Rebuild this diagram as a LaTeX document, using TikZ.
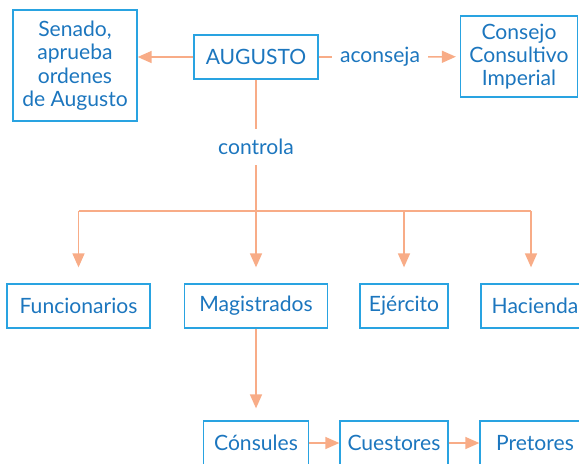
\documentclass[tikz,border=0pt]{standalone}
\usepackage{fontspec}
\setmainfont{Lato}
\usetikzlibrary{arrows.meta,positioning}

\definecolor{cajaborde}{RGB}{41,163,225}
\definecolor{textoazul}{RGB}{28,118,190}
\definecolor{lineasalmon}{RGB}{248,172,135}

\begin{document}
\begin{tikzpicture}[x=0.025cm,y=-0.025cm,
	font=\fontsize{15}{16.6}\selectfont,
	caja/.style={draw=cajaborde, line width=0.9pt, text=textoazul, align=center, inner sep=0pt, minimum height=1.1cm},
	etiqueta/.style={text=textoazul, inner xsep=0.2cm, inner ysep=0.25cm},
	linea/.style={draw=lineasalmon, line width=1.1pt},
	flecha/.style={linea, -{Triangle[length=0.35cm, width=0.3cm]}}]
		\useasboundingbox (0,0) rectangle (579,463);

		% fila superior
		\node[caja, minimum width=3.1cm, minimum height=2.775cm] (senado) at (75,65.5) {Senado,\\aprueba\\ordenes\\de Augusto};
		\node[caja, minimum width=3.1cm] (augusto) at (256,57) {AUGUSTO};
		\node[caja, minimum width=2.925cm, minimum height=2.025cm] (consejo) at (519,56.5) {Consejo\\Consultivo\\Imperial};
		\node[etiqueta] (aconseja) at (380,57) {aconseja};
		\node[etiqueta] (controla) at (256,147) {controla};

		% fila central
		\node[caja, minimum width=3.575cm] (funcionarios) at (78.5,306) {Funcionarios};
		\node[caja, minimum width=3.575cm] (magistrados) at (256,306) {Magistrados};
		\node[caja, minimum width=2.2cm] (ejercito) at (404,306) {Ejército};
		\node[caja, minimum width=2.7cm] (hacienda) at (535,306) {Hacienda};

		% fila inferior
		\node[caja, minimum width=2.625cm] (consules) at (256,443) {Cónsules};
		\node[caja, minimum width=2.7cm] (cuestores) at (394,443) {Cuestores};
		\node[caja, minimum width=2.75cm] (pretores) at (535,443) {Pretores};

		\coordinate (reparto) at (256,211);
		\coordinate (izq) at (funcionarios.north |- reparto);
		\coordinate (der) at (531,211);
		\coordinate (ejer) at (ejercito.north |- reparto);

		\draw[flecha] (augusto.west) -- (senado.east |- augusto.west);
		\draw[linea] (augusto) -- (aconseja);
		\draw[flecha, shorten >=0.1cm] (aconseja) -- (consejo);
		\draw[linea] (augusto) -- (controla);
		\draw[linea] (controla) -- (reparto);
		\draw[linea] (izq) -- (der);

		\draw[flecha, shorten >=0.4cm] (izq) -- (funcionarios.north);
		\draw[flecha, shorten >=0.4cm] (reparto) -- (magistrados.north);
		\draw[flecha, shorten >=0.4cm] (ejer) -- (ejercito.north);
		\draw[flecha, shorten >=0.4cm] (der) -- (der |- hacienda.north);

		\draw[flecha, shorten >=0.3cm] (magistrados) -- (consules);
		\draw[flecha] (consules) -- (cuestores);
		\draw[flecha] (cuestores) -- (pretores);

\end{tikzpicture}
\end{document}
